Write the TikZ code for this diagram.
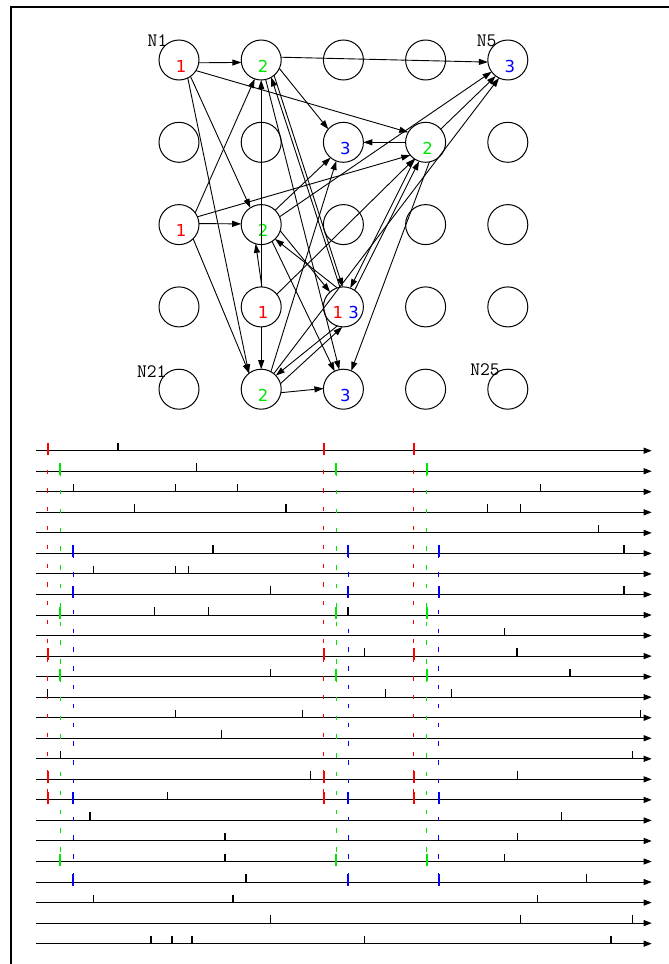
\documentclass[tikz,border=0pt]{standalone}
\usepackage{fontspec}
\usetikzlibrary{arrows.meta}
\newfontfamily\numfont{DejaVu Sans}
\definecolor{nred}{RGB}{255,0,0}
\definecolor{ngreen}{RGB}{0,230,0}
\definecolor{nblue}{RGB}{0,0,255}
\begin{document}
\begin{tikzpicture}[x=1pt,y=-1pt,
  vert/.style={circle,draw,line width=1pt,minimum size=40pt,inner sep=0pt,outer sep=0pt},
  num/.style={font=\numfont\fontsize{16.5}{16.5}\selectfont,inner sep=0pt,anchor=base},
  lab/.style={font=\ttfamily\fontsize{19}{19}\selectfont,inner sep=0pt,anchor=base},
  edge/.style={line width=0.9pt,-{Triangle[length=9pt,width=6pt]}},
  tline/.style={line width=1pt,-{Triangle[length=8pt,width=6pt]}},
  tick/.style={line width=1.2pt},
  ctick/.style={line width=2.3pt},
  cdash/.style={line width=1.2pt,dash pattern=on 4.3pt off 14.5pt}]
\useasboundingbox (0,0) rectangle (669,964);
\draw[line width=2pt] (11,964) -- (11,7) -- (669,7);
% grid of nodes
\foreach \r in {1,...,5} {
  \foreach \c in {1,...,5} {
    \pgfmathtruncatemacro\k{(\r-1)*5+\c}
    \node[vert] (n\k) at ({179+82.2*(\c-1)},{60+82.3*(\r-1)}) {};
  }
}
% node labels
\node[lab] (lN1) at (157.5,46.7) {N1};
\node[lab] (lN5) at (486.7,46.7) {N5};
\node[lab] (lN21) at (151.7,377.5) {N21};
\node[lab] (lN25) at (485,375.5) {N25};
% numbers
\node[num,text=nred] (t1) at (181,72) {1};
\node[num,text=ngreen] (t2) at (263.2,72) {2};
\node[num,text=nblue] (t5) at (509.8,72) {3};
\node[num,text=nblue] (t8) at (345.4,154.3) {3};
\node[num,text=ngreen] (t9) at (427.6,154.3) {2};
\node[num,text=nred] (t11) at (181,236.6) {1};
\node[num,text=ngreen] (t12) at (263.2,236.6) {2};
\node[num,text=nred] (t17) at (263.2,318.9) {1};
\node[num] (t18) at (345.7,318.9) {\textcolor{nred}{1} \textcolor{nblue}{3}};
\node[num,text=ngreen] (t22) at (263.2,401.2) {2};
\node[num,text=nblue] (t23) at (345.4,401.2) {3};
% edges: sources -> intermediates
\draw[edge] (n1.-8) -- (n2.187);
\draw[edge] (n1.-32) -- (n9.150);
\draw[edge] (n1.-55) -- (n12.123);
\draw[edge] (n1.-64) -- (n22.128);
\draw[edge] (n11.36) -- (n2.-109);
\draw[edge] (n11.23) -- (n9.220);
\draw[edge] (n11.3) -- (n12.178);
\draw[edge] (n11.-45) -- (n22.127);
\draw[edge] (n17.90) -- (n2.-90);
\draw[edge] (n17.88) -- (n12.-106);
\draw[edge] (n17.39) -- (n9.236);
\draw[edge] (n17.-90) -- (n22.90);
\draw[edge] (n18.100) -- (n2.-60);
\draw[edge] (n18.108) -- (n12.-46);
\draw[edge] (n18.-108) -- (n22.43);
\draw[edge] (n18.56.3) -- (n9.-109.3);
% intermediates -> destinations
\draw[edge] (n2.8) -- (n5.186);
\draw[edge] (n2.-25) -- (n8.139);
\draw[edge] (n2.-50) -- (n18.92);
\draw[edge] (n2.-77) -- (n23.102);
\draw[edge] (n12.46) -- (n8.230);
\draw[edge] (n12.23) -- (n5.216);
\draw[edge] (n12.-18) -- (n18.132);
\draw[edge] (n12.-57) -- (n23.116);
\draw[edge] (n22.61) -- (n8.249);
\draw[edge] (n22.51) -- (n5.244);
\draw[edge] (n22.16) -- (n18.-93);
\draw[edge] (n22.-10) -- (n23.178);
\draw[edge] (n9.180) -- (n8.0);
\draw[edge] (n9.41) -- (n5.233);
\draw[edge] (n9.-79) -- (n23.67);
\draw[edge] (n9.-123.7) -- (n18.70.7);
% timing chart
\foreach \i in {1,...,25} {
  \draw[tline] (36,{450.7+20.54*(\i-1)}) -- (651.7,{450.7+20.54*(\i-1)});
}
% dashed colour guides
\foreach \x in {47.7,323.7,413.7} {\draw[cdash,nred] (\x,450.7) -- (\x,801);}
\foreach \x in {60.3,336.3,426.7} {\draw[cdash,ngreen] (\x,471.2) -- (\x,862);}
\foreach \x in {73.3,348.3,438.7} {\draw[cdash,nblue] (\x,553.4) -- (\x,883);}
% black ticks
\foreach \i/\xs in {1/{118},2/{196.7},3/{73.7,175.7,237.7,540.7},4/{134.7,286,487.7,520.7},
  5/{598.3},6/{213,624},7/{93.7,175.7,188.7},8/{270.7,624},9/{154.7,208.3,348},
  10/{504.3},11/{364.7,517},12/{270.7,570},13/{47.7,385.7,451.3},14/{175.7,302.3,640.7},
  15/{221.7},16/{60.3,632.3},17/{310.7,517.3},18/{167.3},19/{90,561.7},20/{225,517.3},
  21/{225,504.3},22/{246,586.7},23/{93.7,233,537.3},24/{270.7,520.7,632.3},
  25/{151,172,192,364.7,611}} {
  \foreach \x in \xs {
    \draw[tick] (\x,{450.7+20.54*(\i-1)}) -- ++(0,-8);
  }
}
% coloured ticks
\foreach \i in {1,11,17,18} {\foreach \x in {47.7,323.7,413.7} {
  \draw[ctick,nred] (\x,{450.7+20.54*(\i-1)-8}) -- (\x,{450.7+20.54*(\i-1)+4});}}
\foreach \i in {2,9,12,21} {\foreach \x in {60.3,336.3,426.7} {
  \draw[ctick,ngreen] (\x,{450.7+20.54*(\i-1)-8}) -- (\x,{450.7+20.54*(\i-1)+4});}}
\foreach \i in {6,8,18,22} {\foreach \x in {73.3,348.3,438.7} {
  \draw[ctick,nblue] (\x,{450.7+20.54*(\i-1)-8}) -- (\x,{450.7+20.54*(\i-1)+4});}}
\end{tikzpicture}
\end{document}
